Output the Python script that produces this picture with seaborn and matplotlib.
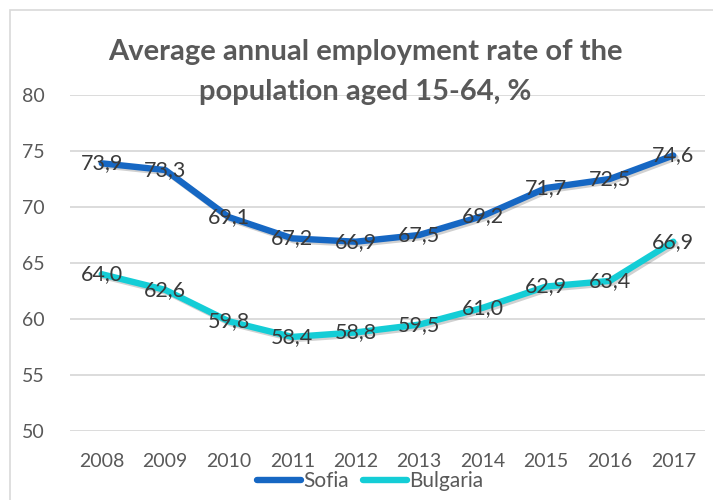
import matplotlib
matplotlib.use("Agg")
import matplotlib.pyplot as plt
import matplotlib.patheffects as pe
from matplotlib.patches import Rectangle
import seaborn as sns
import pandas as pd

years = ["2008", "2009", "2010", "2011", "2012", "2013", "2014", "2015", "2016", "2017"]
sofia = [73.9, 73.3, 69.1, 67.2, 66.9, 67.5, 69.2, 71.7, 72.5, 74.6]
bulgaria = [64.0, 62.6, 59.8, 58.4, 58.8, 59.5, 61.0, 62.9, 63.4, 66.9]
series_names = ["Sofia", "Bulgaria"]
y_ticks = [50, 55, 60, 65, 70, 75, 80]
title_lines = ["Average annual employment rate of the", "population aged 15-64, %"]

colors = {"Sofia": "#1667C3", "Bulgaria": "#14CDD6"}
text_gray = "#595959"
label_gray = "#3A3A3A"

sns.set_theme(style="white")
plt.rcParams["font.family"] = ["Lato", "DejaVu Sans"]

df = pd.DataFrame({
    "year": years * 2,
    "x": list(range(len(years))) * 2,
    "value": sofia + bulgaria,
    "series": [series_names[0]] * len(years) + [series_names[1]] * len(years),
})

fig = plt.figure(figsize=(7.13, 5), dpi=100)
ax = fig.add_axes([70 / 713, 1 - 431 / 500, 635 / 713, 336 / 500])

# chart border
fig.patches.append(Rectangle((10 / 713, -0.1), 1.2, 1 - 10 / 500 + 0.1,
                             transform=fig.transFigure, fill=False,
                             edgecolor="#D9D9D9", linewidth=1.2, zorder=0))

sns.lineplot(data=df, x="x", y="value", hue="series", palette=colors,
             linewidth=4.6, ax=ax, legend=True, sort=False)
for line in ax.lines:
    line.set_solid_capstyle("round")
    line.set_solid_joinstyle("round")
    line.set_path_effects([pe.SimpleLineShadow(offset=(1.5, -1.5), alpha=0.18, shadow_color="black"),
                           pe.Normal()])

for xs, v in zip(df["x"], df["value"]):
    ax.text(xs, v, f"{v:.1f}".replace(".", ","), ha="center", va="center",
            fontsize=15.5, color=label_gray, zorder=5)

ax.set_xlim(-0.5, len(years) - 0.5)
ax.set_ylim(50, 80)
ax.set_yticks(y_ticks)
ax.set_yticklabels([str(t) for t in y_ticks])
ax.set_xticks(range(len(years)))
ax.set_xticklabels(years)
ax.tick_params(axis="y", length=0, pad=18, labelsize=14, labelcolor=text_gray)
ax.tick_params(axis="x", length=0, pad=16, labelsize=14, labelcolor=text_gray)
ax.set_xlabel("")
ax.set_ylabel("")
ax.grid(axis="y", color="#D9D9D9", linewidth=1.3)
ax.set_axisbelow(True)
for s in ax.spines.values():
    s.set_visible(False)

handles, labels = ax.get_legend_handles_labels()
leg = ax.legend(handles, labels, loc="center", bbox_to_anchor=(370 / 713, 1 - 481 / 500),
                bbox_transform=fig.transFigure, ncol=2, frameon=False,
                fontsize=15, handlelength=2.1, handletextpad=0.1, columnspacing=0.7,
                labelcolor=text_gray)
for h in leg.get_lines():
    h.set_linewidth(4.6)
    h.set_solid_capstyle("round")
    h.set_path_effects([])

fig.text(365 / 713, 1 - 52 / 500, title_lines[0], ha="center", va="center",
         fontsize=21, fontweight="bold", color=text_gray)
fig.text(365 / 713, 1 - 92 / 500, title_lines[1], ha="center", va="center",
         fontsize=21, fontweight="bold", color=text_gray)

fig.savefig("out.png", dpi=100, facecolor="white")
